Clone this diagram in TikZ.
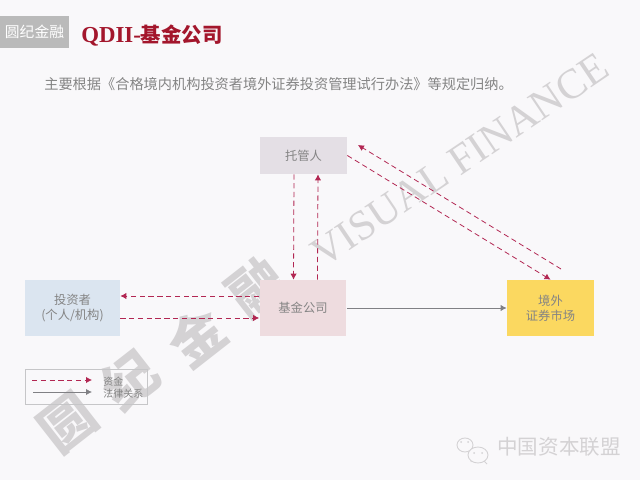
\documentclass[tikz,border=0pt]{standalone}
\usepackage{fontspec}
\usepackage{tikz}
\usetikzlibrary{arrows.meta, positioning}
\setmainfont{Noto Sans CJK SC}
\newfontfamily\titlefont{Liberation Serif}
\definecolor{pagebg}{RGB}{249, 248, 250}
\definecolor{logogray}{RGB}{186, 186, 186}
\definecolor{titlered}{RGB}{163, 22, 44}
\definecolor{bodygray}{RGB}{132, 132, 132}
\definecolor{markgray}{RGB}{212, 210, 212}
\definecolor{moneyred}{RGB}{178, 38, 82}
\definecolor{lawgray}{RGB}{128, 128, 132}
\definecolor{investorblue}{RGB}{219, 229, 240}
\definecolor{fundpink}{RGB}{238, 220, 223}
\definecolor{custodiangray}{RGB}{228, 223, 229}
\definecolor{marketyellow}{RGB}{251, 216, 96}
\tikzset{
    partybox/.style={minimum width=1.74cm, minimum height=1.12cm, inner sep=0pt, align=center,
        font=\fontsize{7}{8.6}\selectfont, text=bodygray},
    brushmark/.style={rotate=38, text=markgray, font=\fontsize{31}{31}\selectfont\bfseries},
    moneyline/.style={densely dashed, draw=moneyred, line width=0.45pt, -{Latex[length=3.4pt, width=3.6pt]}},
    lawline/.style={draw=lawgray, line width=0.5pt, -{Latex[length=3.4pt, width=3.6pt]}},
}
\begin{document}
\begin{tikzpicture}[x=0.02cm, y=-0.02cm]
    \useasboundingbox (0,0) rectangle (640,480);
    \fill[pagebg] (0,0) rectangle (640,480);

    % Watermark
    \node[brushmark] (markA) at (68,423) {圆};
    \node[brushmark] (markB) at (130,380) {纪};
    \node[brushmark] (markC) at (197,337) {金};
    \node[brushmark] (markD) at (257,287) {融};
    \node[rotate=34, text=markgray, font=\titlefont\fontsize{24}{24}\selectfont] (markE) at (460,160) {VISUAL FINANCE};

    % Header
    \node[fill=logogray, minimum width=1.38cm, minimum height=0.64cm, inner sep=0pt, text=white,
        font=\fontsize{8.4}{8.4}\selectfont] (logo) at (34.5,32) {圆纪金融};
    \node[anchor=west, inner sep=0pt, text=titlered, font=\fontsize{11.6}{12}\selectfont\bfseries] (title) at (81,36) {{\titlefont\fontsize{13}{14}\selectfont QDII-}基金公司};
    \node[anchor=west, inner sep=0pt, text=bodygray, font=\fontsize{8.08}{9}\selectfont] (subtitle) at (44,84) {主要根据《合格境内机构投资者境外证券投资管理试行办法》等规定归纳。};

    % Parties
    \node[partybox, fill=custodiangray, minimum height=0.74cm] (custodian) at (303.5,155.5) {托管人};
    \node[partybox, fill=fundpink] (fund) at (303,308) {基金公司};
    \node[partybox, fill=investorblue, minimum width=1.9cm] (investor) at (72.5,308) {投资者\\(个人/机构)};
    \node[partybox, fill=marketyellow] (market) at (550.5,308) {境外\\证券市场};

    % Money flows
    \draw[moneyline] ([xshift=-0.19cm]custodian.south) -- ([xshift=-0.19cm]fund.north);
    \draw[moneyline] ([xshift=0.29cm]fund.north) -- ([xshift=0.29cm]custodian.south);
    \draw[moneyline] ([yshift=0.24cm]fund.west) -- ([yshift=0.24cm]investor.east);
    \draw[moneyline] ([yshift=-0.2cm]investor.east) -- ([yshift=-0.2cm]fund.west);
    \draw[moneyline] (custodian.east) -- (market.north);
    \coordinate (marketout) at (561,269);
    \coordinate (custodianin) at (358,145);
    \draw[moneyline] (marketout) -- (custodianin);

    % Legal relation
    \draw[lawline] (fund.east) -- (market.west);

    % Legend
    \node[draw=lawgray!45, line width=0.45pt, minimum width=2.44cm, minimum height=0.7cm, inner sep=0pt] (legend) at (86,386.5) {};
    \coordinate (moneyfrom) at (32,380);
    \coordinate (moneyto) at (92,380);
    \coordinate (lawfrom) at (33,392);
    \coordinate (lawto) at (92,392);
    \draw[moneyline] (moneyfrom) -- (moneyto);
    \draw[lawline] (lawfrom) -- (lawto);
    \node[anchor=west, inner sep=0pt, text=bodygray, font=\fontsize{5.7}{6}\selectfont] (moneytext) at (103,382) {资金};
    \node[anchor=west, inner sep=0pt, text=bodygray, font=\fontsize{5.7}{6}\selectfont] (lawtext) at (103,394) {法律关系};

    % Footer
    \draw[markgray, fill=pagebg, line width=0.5pt] (465,445) ellipse [x radius=8, y radius=7];
    \draw[markgray, line width=0.5pt] (472,459) -- (471,462);
    \draw[markgray, fill=pagebg, line width=0.5pt] (478,455) ellipse [x radius=10, y radius=8];
    \draw[markgray, line width=0.5pt] (484,461) -- (487,464);
    \fill[markgray] (461,442) circle [radius=1] (468,442) circle [radius=1] (474,453) circle [radius=1] (482,453) circle [radius=1];
    \node[anchor=west, inner sep=0pt, text=markgray, font=\fontsize{11.7}{12}\selectfont] (footer) at (497,447) {中国资本联盟};
\end{tikzpicture}
\end{document}
